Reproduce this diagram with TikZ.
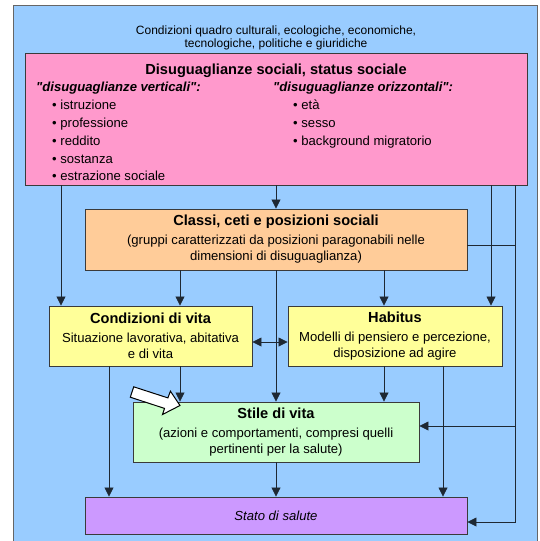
\documentclass[tikz,border=0pt]{standalone}
\usepackage{fontspec}
% a family without the TeX mapping keeps straight double quotes
\newfontfamily\arialfam{Liberation Sans}
\setmainfont{Liberation Sans}
\usetikzlibrary{arrows.meta}

\definecolor{framebg}{HTML}{99CCFF}
\definecolor{pinkbox}{HTML}{FF99CC}
\definecolor{orangebox}{HTML}{FFCC99}
\definecolor{yellowbox}{HTML}{FFFF99}
\definecolor{greenbox}{HTML}{CCFFCC}
\definecolor{violetbox}{HTML}{CC99FF}
\definecolor{edgeline}{HTML}{1E2833}
\definecolor{boxline}{HTML}{3A3A3A}

\newcommand\bodyfnt{\arialfam\fontsize{13.1}{16}\selectfont}
\newcommand\headfnt{\arialfam\fontsize{14.6}{17}\selectfont\bfseries}
\newcommand\framefnt{\arialfam\fontsize{12}{13.6}\selectfont}

\begin{document}
\begin{tikzpicture}[x=1pt,y=-1pt,
  box/.style={draw=boxline, line width=0.9pt, inner sep=0pt, align=center, font=\bodyfnt},
  txt/.style={inner sep=0pt, font=\bodyfnt},
  arr/.style={draw=edgeline, line width=0.8pt, -{Triangle[length=9pt,width=9pt]}},
  arrboth/.style={draw=edgeline, line width=0.8pt, {Triangle[length=9pt,width=9pt]}-{Triangle[length=9pt,width=9pt]}},
  link/.style={draw=edgeline, line width=0.8pt}]

\useasboundingbox (0,0) rectangle (539,541);

% outer frame of the framework conditions
\path[fill=framebg] (13.5,5.5) rectangle (537.5,560);
\draw[line width=1pt, draw=black!60] (13.5,560) -- (13.5,5.5) -- (537.5,5.5) -- (537.5,560);
\node[inner sep=0pt, align=center, font=\framefnt] (frametitle) at (276,38)
  {Condizioni quadro culturali, ecologiche, economiche,\\tecnologiche, politiche e giuridiche};

% boxes
\node[box, fill=pinkbox,   minimum width=502pt, minimum height=132pt] (ineq)   at (276,119) {};
\node[box, fill=orangebox, minimum width=382pt, minimum height=61pt]  (classi) at (276,239.5)
  {{\headfnt Classi, ceti e posizioni sociali}\\[3pt](gruppi caratterizzati da posizioni paragonabili nelle\\dimensioni di disuguaglianza)};
\node[box, fill=yellowbox, minimum width=203pt, minimum height=60pt]  (cond)   at (150.5,336)
  {{\headfnt Condizioni di vita}\\[3pt]Situazione lavorativa, abitativa\\e di vita};
\node[box, fill=yellowbox, minimum width=214pt, minimum height=60pt]  (habit)  at (395,336)
  {{\headfnt Habitus}\\[3pt]Modelli di pensiero e percezione,\\disposizione ad agire};
\node[box, fill=greenbox,  minimum width=286pt, minimum height=60pt]  (stile)  at (276,432)
  {{\headfnt Stile di vita}\\[3pt](azioni e comportamenti, compresi quelli\\pertinenti per la salute)};
\node[box, fill=violetbox, minimum width=382pt, minimum height=37pt]  (stato)  at (276,515.5)
  {\itshape Stato di salute};

% contents of the inequality box
\node[txt, font=\headfnt, anchor=base] (ineqtitle) at (276,74) {Disuguaglianze sociali, status sociale};
\node[txt, font=\bodyfnt\bfseries\itshape, anchor=base west] (verthead) at (36,91) {"disuguaglianze verticali":};
\node[txt, font=\bodyfnt\bfseries\itshape, anchor=base west] (orizhead) at (273,91) {"disuguaglianze orizzontali":};
\foreach \name/\y/\item in {v1/109/istruzione, v2/127/professione, v3/145/reddito, v4/163/sostanza, v5/180.5/estrazione sociale}
  \node[txt, anchor=base west] (\name) at (52,\y) {\textbullet\ \item};
\foreach \name/\y/\item in {o1/109/età, o2/127/sesso, o3/145/background migratorio}
  \node[txt, anchor=base west] (\name) at (293,\y) {\textbullet\ \item};

% lanes and bends of the connectors
\coordinate (l61)  at (61,0);
\coordinate (l109) at (109,0);
\coordinate (l180) at (180,0);
\coordinate (l276) at (276,0);
\coordinate (l384) at (384,0);
\coordinate (l443) at (443,0);
\coordinate (l491) at (491,0);
\coordinate (l515) at (515,0);
\coordinate (hmid) at (0,342);
\coordinate (rclassi) at (515,245);
\coordinate (rstile)  at (515,426);
\coordinate (rstato)  at (515,522);

% connectors
\draw[arr] (ineq.south -| l61)   -- (cond.north -| l61);
\draw[arr] (ineq.south -| l276)  -- (classi.north -| l276);
\draw[arr] (ineq.south -| l491)  -- (habit.north -| l491);
\draw[arr] (ineq.south -| l515)  |- (stato.east |- rstato);
\draw[link] (classi.east |- rclassi) -- (rclassi);
\draw[arr] (rstile) -- (stile.east |- rstile);

\draw[arr] (classi.south -| l180) -- (cond.north -| l180);
\draw[arr] (classi.south -| l384) -- (habit.north -| l384);
\draw[arr] (classi.south -| l276) -- (stile.north -| l276);

\draw[arrboth] (cond.east |- hmid) -- (habit.west |- hmid);

\draw[arr] (cond.south -| l109)  -- (stato.north -| l109);
\draw[arr] (cond.south -| l180)  -- (stile.north -| l180);
\draw[arr] (habit.south -| l384) -- (stile.north -| l384);
\draw[arr] (habit.south -| l443) -- (stato.north -| l443);
\draw[arr] (stile.south -| l276) -- (stato.north -| l276);

% white block arrow pointing at the lifestyle box
\draw[fill=white, draw=black, line width=1pt, line join=miter]
  (133.7,386.8) -- (167.9,397.9) -- (170.4,391.2) -- (180,405.5)
  -- (162.5,414.5) -- (164.5,408.4) -- (130.3,397.2) -- cycle;

\end{tikzpicture}
\end{document}
